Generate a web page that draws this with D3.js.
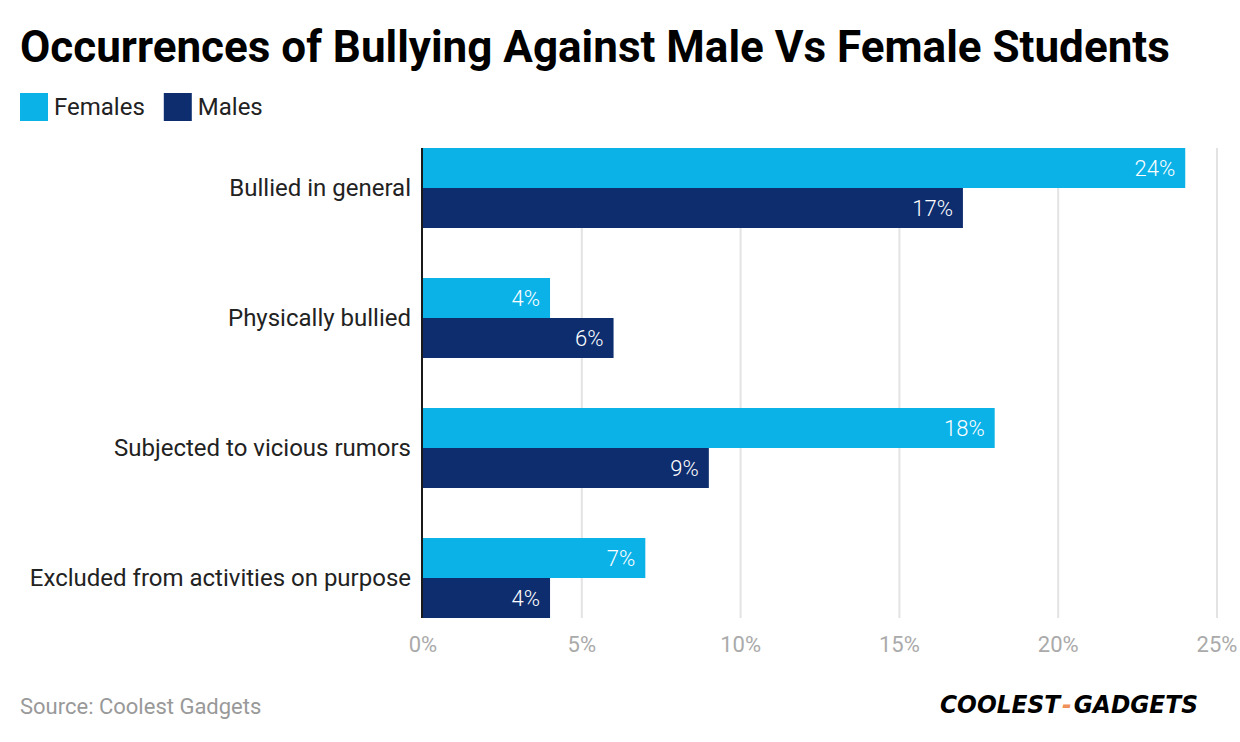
<!DOCTYPE html>
<html>
<head>
<meta charset="utf-8">
<script src="https://cdn.jsdelivr.net/npm/d3@7"></script>
<style>
  body { margin: 0; background: #fff; }
  svg { display: block; font-family: Roboto, sans-serif; }
</style>
</head>
<body>
<div id="chart"></div>
<script>
const categories = [
    "Bullied in general",
    "Physically bullied",
    "Subjected to vicious rumors",
    "Excluded from activities on purpose"
];
const seriesNames = ["Females", "Males"];
const females = [24, 4, 18, 7];
const males = [17, 6, 9, 4];
const xTicks = [0, 5, 10, 15, 20, 25];

const colors = { Females: "#0ab2e8", Males: "#0e2d6f" };

const width = 1240, height = 742;
const margin = { left: 423, right: 23, top: 123, bottom: 99 };

const svg = d3.select("#chart").append("svg")
    .attr("width", width)
    .attr("height", height);

// title
svg.append("text")
    .attr("x", 20)
    .attr("y", 62)
    .style("font-size", "44px")
    .style("font-weight", 700)
    .style("fill", "#000")
    .text("Occurrences of Bullying Against Male Vs Female Students");

// legend
const legend = svg.append("g").attr("transform", "translate(20,93)");
let lx = 0;
seriesNames.forEach(name => {
    legend.append("rect")
        .attr("x", lx).attr("y", 0)
        .attr("width", 28).attr("height", 28)
        .attr("fill", colors[name]);
    const t = legend.append("text")
        .attr("x", lx + 34).attr("y", 22)
        .style("font-size", "24px")
        .style("fill", "#222")
        .text(name);
    lx += 34 + t.node().getComputedTextLength() + 19;
});

const x = d3.scaleLinear()
    .domain([0, 25])
    .range([margin.left, width - margin.right]);

const y = d3.scaleBand()
    .domain(categories)
    .range([margin.top, height - margin.bottom])
    .paddingInner(50 / 130)
    .paddingOuter(25 / 130);

const ySub = d3.scaleBand()
    .domain(seriesNames)
    .range([0, y.bandwidth()]);

const plotTop = y(categories[0]);
const plotBottom = y(categories[categories.length - 1]) + y.bandwidth();

// grid lines
svg.append("g")
    .selectAll("line")
    .data(xTicks.slice(1))
    .join("line")
    .attr("x1", d => x(d)).attr("x2", d => x(d))
    .attr("y1", plotTop).attr("y2", plotBottom)
    .attr("stroke", "#e3e3e3")
    .attr("stroke-width", 2);

// x tick labels
svg.append("g")
    .selectAll("text")
    .data(xTicks)
    .join("text")
    .attr("x", d => x(d))
    .attr("y", 652)
    .attr("text-anchor", "middle")
    .style("font-size", "22px")
    .style("fill", "#aaaaaa")
    .text(d => d + "%");

// bars
const rows = categories.map((c, i) => ({ cat: c, Females: females[i], Males: males[i] }));

const groups = svg.append("g")
    .selectAll("g")
    .data(rows)
    .join("g")
    .attr("transform", d => "translate(0," + y(d.cat) + ")");

groups.selectAll("rect")
    .data(d => seriesNames.map(s => ({ s, v: d[s] })))
    .join("rect")
    .attr("x", x(0))
    .attr("y", d => ySub(d.s))
    .attr("width", d => x(d.v) - x(0))
    .attr("height", ySub.bandwidth())
    .attr("fill", d => colors[d.s]);

groups.selectAll("text.val")
    .data(d => seriesNames.map(s => ({ s, v: d[s] })))
    .join("text")
    .attr("class", "val")
    .attr("x", d => x(d.v) - 10)
    .attr("y", d => ySub(d.s) + ySub.bandwidth() / 2 + 8)
    .attr("text-anchor", "end")
    .style("font-size", "22px")
    .style("font-weight", 300)
    .style("fill", "#fff")
    .text(d => d.v + "%");

// category labels
svg.append("g")
    .selectAll("text")
    .data(categories)
    .join("text")
    .attr("x", 411)
    .attr("y", d => y(d) + y.bandwidth() / 2 + 8)
    .attr("text-anchor", "end")
    .style("font-size", "24px")
    .style("fill", "#222")
    .text(d => d);

// axis line
svg.append("line")
    .attr("x1", x(0) - 1).attr("x2", x(0) - 1)
    .attr("y1", plotTop).attr("y2", plotBottom)
    .attr("stroke", "#1a1a1a")
    .attr("stroke-width", 2);

// source
svg.append("text")
    .attr("x", 20)
    .attr("y", 714)
    .style("font-size", "22px")
    .style("fill", "#999")
    .text("Source: Coolest Gadgets");

// logo
const logoParts = [
    { t: "COOLEST", c: "#000" },
    { t: "-", c: "#f0905a" },
    { t: "GADGETS", c: "#000" }
];
const logo = svg.append("g");
let gx = 0;
logoParts.forEach(p => {
    const t = logo.append("text")
        .attr("x", gx)
        .attr("y", 0)
        .style("font-size", "24px")
        .style("font-weight", 900)
        .style("font-style", "italic")
        .style("font-family", "'DejaVu Sans', sans-serif")
        .style("fill", p.c)
        .text(p.t);
    gx += t.node().getComputedTextLength() + 2;
});
const sx = 258 / (gx - 2);
logo.attr("transform", "translate(940,713) scale(" + sx + ",1)");
</script>
</body>
</html>
